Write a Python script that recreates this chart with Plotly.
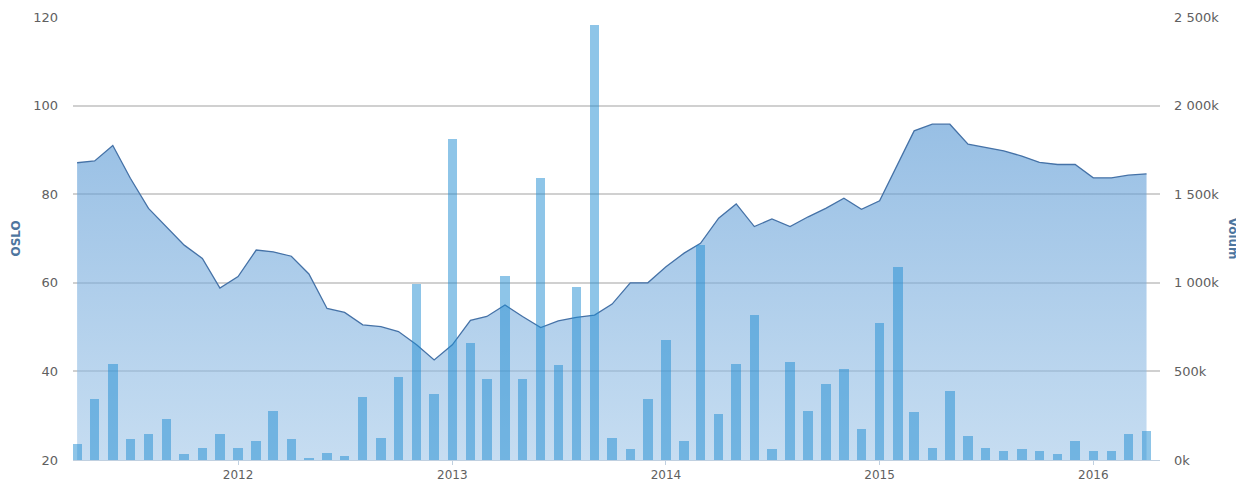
import plotly.graph_objects as go
import pandas as pd

months = pd.date_range("2011-04-01", "2016-04-01", freq="MS")

oslo = [
    87.1, 87.5, 91.0, 83.6, 76.8, 72.7, 68.5, 65.5, 58.8,
    61.4, 67.4, 67.0, 66.0, 62.0, 54.2, 53.3, 50.5, 50.1, 49.0, 46.0, 42.6,
    46.0, 51.5, 52.4, 55.0, 52.4, 49.9, 51.4, 52.2, 52.7, 55.2, 60.0, 60.0,
    63.6, 66.7, 68.9, 74.6, 77.8, 72.7, 74.4, 72.7, 74.9, 76.8, 79.1, 76.6,
    78.5, 87.0, 94.3, 95.8, 95.8, 91.3, 90.6, 89.8, 88.6, 87.2, 86.7, 86.7,
    83.7, 83.7, 84.3, 84.6,
]

volum = [
    88, 344, 543, 117, 145, 231, 32, 70, 145,
    70, 107, 278, 117, 13, 41, 23, 353, 126, 466, 996, 372,
    1812, 658, 459, 1036, 459, 1592, 534, 977, 2457, 126, 60, 344,
    677, 107, 1216, 259, 543, 818, 60, 553, 278, 429, 515, 173,
    771, 1090, 269, 70, 391, 135, 70, 51, 60, 51, 32, 107,
    51, 51, 145, 165,
]

left_ticks = [20, 40, 60, 80, 100, 120]
right_tickvals = [0, 500, 1000, 1500, 2000, 2500]
right_ticktext = ["0k", "500k", "1 000k", "1 500k", "2 000k", "2 500k"]

fig = go.Figure()

fig.add_trace(go.Scatter(
    x=months, y=oslo, mode="lines", name="OSLO",
    line=dict(color="#4572a7", width=1.3),
    fill="tozeroy",
    fillgradient=dict(
        type="vertical",
        colorscale=[[0, "rgba(160,198,232,0.6)"], [1, "rgba(88,152,212,0.62)"]],
        start=20, stop=96,
    ),
    yaxis="y", showlegend=False,
))

fig.add_trace(go.Bar(
    x=months, y=volum, name="Volum",
    marker=dict(color="rgba(30,140,210,0.5)", line=dict(width=0)),
    width=16.2 * 86400000,
    yaxis="y2", showlegend=False,
))

font_family = "DejaVu Sans, Verdana, sans-serif"

# page body has an 8px margin; figure is sized/placed to compensate
OFF = 8
W, H = 1244 - OFF, 483 - OFF
L = 73 - OFF
T = 17 - OFF
R = W - (1160 - OFF)
B = H - (460 - OFF)
pw = W - L - R

fig.update_layout(
    width=W, height=H,
    margin=dict(l=L, r=R, t=T, b=B, autoexpand=False),
    paper_bgcolor="white", plot_bgcolor="white",
    font=dict(family=font_family, size=12, color="#606060"),
    xaxis=dict(
        range=["2011-03-25", "2016-04-24"],
        tickvals=["2012-01-01", "2013-01-01", "2014-01-01", "2015-01-01", "2016-01-01"],
        ticktext=["2012", "2013", "2014", "2015", "2016"],
        showgrid=False, showline=True, linecolor="#c0d0e0", linewidth=1,
        ticks="outside", ticklen=4, tickcolor="#c0d0e0",
        tickfont=dict(size=12, color="#606060"),
        zeroline=False, automargin=False,
    ),
    yaxis=dict(
        range=[20, 120], tickvals=left_ticks,
        showgrid=True, gridcolor="#d0d0d0", gridwidth=2,
        zeroline=False, showline=False, automargin=False,
        tickfont=dict(size=13, color="#606060"),
        ticklabelstandoff=14,
    ),
    yaxis2=dict(
        range=[0, 2500], tickvals=right_tickvals, ticktext=right_ticktext,
        overlaying="y", side="right",
        showgrid=False, zeroline=False, showline=False, automargin=False,
        tickfont=dict(size=13, color="#606060"),
        ticklabelstandoff=13,
    ),
    bargap=0,
    annotations=[
        dict(text="<b>OSLO</b>", xref="paper", yref="paper",
             x=(15 - OFF - L) / pw, y=0.5, textangle=-90, showarrow=False,
             xanchor="center", yanchor="middle",
             font=dict(size=12, color="#4d759e")),
        dict(text="<b>Volum</b>", xref="paper", yref="paper",
             x=(1233 - OFF - L) / pw, y=0.5, textangle=90, showarrow=False,
             xanchor="center", yanchor="middle",
             font=dict(size=12, color="#4d759e")),
    ],
)

fig.write_html("out.html")
